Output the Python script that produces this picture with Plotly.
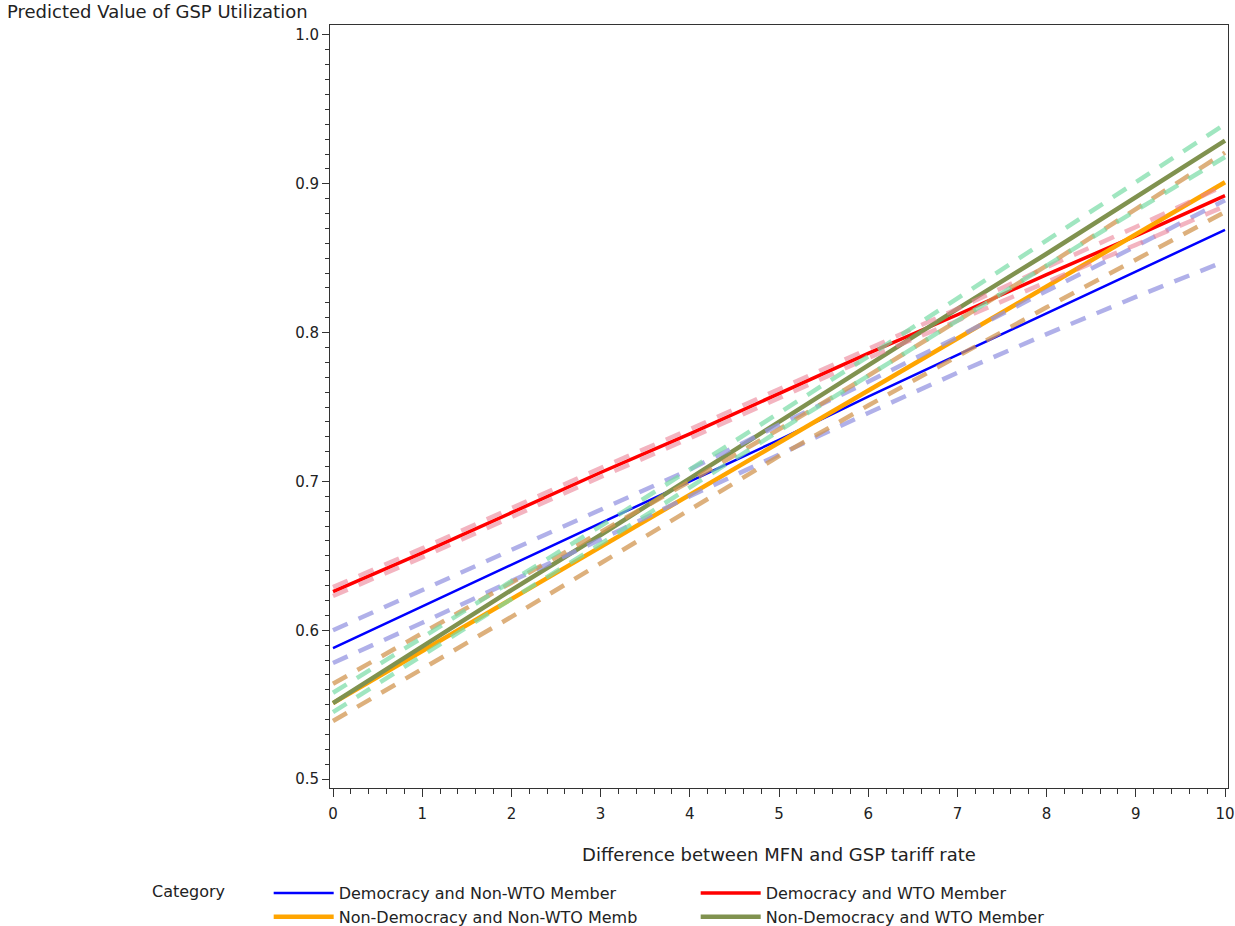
import plotly.graph_objects as go

x_vals = [0, 1, 2, 3, 4, 5, 6, 7, 8, 9, 10]

series_names = [
    "Democracy and Non-WTO Member",
    "Democracy and WTO Member",
    "Non-Democracy and Non-WTO Memb",
    "Non-Democracy and WTO Member",
]

dem_nonwto = [0.588, 0.616, 0.644, 0.672, 0.700, 0.728, 0.757, 0.785, 0.813, 0.841, 0.869]
dem_nonwto_hi = [0.600, 0.627, 0.654, 0.681, 0.708, 0.738, 0.767, 0.797, 0.828, 0.858, 0.889]
dem_nonwto_lo = [0.578, 0.605, 0.633, 0.661, 0.690, 0.718, 0.746, 0.773, 0.799, 0.824, 0.848]

dem_wto = [0.626, 0.652, 0.679, 0.706, 0.732, 0.759, 0.786, 0.812, 0.839, 0.865, 0.892]
dem_wto_hi = [0.629, 0.655, 0.682, 0.709, 0.735, 0.762, 0.789, 0.816, 0.844, 0.871, 0.899]
dem_wto_lo = [0.623, 0.649, 0.676, 0.703, 0.729, 0.756, 0.783, 0.808, 0.834, 0.859, 0.885]

nondem_nonwto = [0.551, 0.586, 0.621, 0.656, 0.691, 0.726, 0.761, 0.796, 0.831, 0.866, 0.901]
nondem_nonwto_hi = [0.564, 0.598, 0.632, 0.666, 0.700, 0.735, 0.771, 0.808, 0.845, 0.883, 0.921]
nondem_nonwto_lo = [0.539, 0.574, 0.609, 0.645, 0.681, 0.717, 0.751, 0.784, 0.817, 0.849, 0.881]

nondem_wto = [0.551, 0.589, 0.627, 0.664, 0.702, 0.740, 0.778, 0.816, 0.853, 0.891, 0.929]
nondem_wto_hi = [0.558, 0.595, 0.633, 0.670, 0.708, 0.746, 0.784, 0.823, 0.862, 0.901, 0.940]
nondem_wto_lo = [0.545, 0.583, 0.621, 0.658, 0.696, 0.734, 0.771, 0.808, 0.845, 0.882, 0.918]

x_ticks = [0, 1, 2, 3, 4, 5, 6, 7, 8, 9, 10]
y_ticks = [0.5, 0.6, 0.7, 0.8, 0.9, 1.0]
y_tick_text = ["0.5", "0.6", "0.7", "0.8", "0.9", "1.0"]

means = [dem_nonwto, dem_wto, nondem_nonwto, nondem_wto]
his = [dem_nonwto_hi, dem_wto_hi, nondem_nonwto_hi, nondem_wto_hi]
los = [dem_nonwto_lo, dem_wto_lo, nondem_nonwto_lo, nondem_wto_lo]

line_colors = ["#0000FF", "#FF0000", "#FFA500", "#80924F"]
line_widths = [2.5, 3.5, 4.5, 4.5]
ci_colors = [
    "rgba(150,150,225,0.75)",
    "rgba(235,130,150,0.6)",
    "rgba(210,150,80,0.75)",
    "rgba(120,220,165,0.7)",
]

FONT = "DejaVu Sans, sans-serif"
TXT = "#222"

fig = go.Figure()

for i in range(4):
    fig.add_trace(go.Scatter(
        x=x_vals, y=means[i], mode="lines", name=series_names[i],
        line=dict(color=line_colors[i], width=line_widths[i]),
        legendrank=i + 1,
    ))

for i in range(4):
    for band in (his[i], los[i]):
        fig.add_trace(go.Scatter(
            x=x_vals, y=band, mode="lines", showlegend=False,
            line=dict(color=ci_colors[i], width=4.5, dash="16px,12px"),
            hoverinfo="skip",
        ))

fig.update_layout(
    width=1235, height=926,
    margin=dict(l=330, r=7, t=25, b=138, autoexpand=False),
    plot_bgcolor="white", paper_bgcolor="white",
    font=dict(family=FONT, size=15, color=TXT),
    showlegend=True,
    legend=dict(
        orientation="h",
        xref="container", yref="container",
        x=150 / 1235, xanchor="left",
        y=1 - 876 / 926, yanchor="top",
        entrywidth=352, entrywidthmode="pixels",
        itemwidth=60,
        tracegroupgap=0,
        font=dict(family=FONT, size=16, color=TXT),
        title=dict(text="Category       ", side="left", font=dict(family=FONT, size=16, color=TXT)),
        bgcolor="rgba(0,0,0,0)",
    ),
    annotations=[dict(
        text="Predicted Value of GSP Utilization",
        xref="paper", yref="paper",
        x=-0.362, y=1.0 + 13 / 763, xanchor="left", yanchor="middle",
        showarrow=False, font=dict(family=FONT, size=18, color=TXT),
    )],
)

fig.update_xaxes(
    range=[-0.0336, 10.0336],
    automargin=False,
    tickvals=x_ticks, ticktext=[str(t) for t in x_ticks],
    ticks="outside", ticklen=8, tickcolor="#333", tickwidth=1,
    ticklabelstandoff=4,
    minor=dict(dtick=0.2, ticks="outside", ticklen=5, tickcolor="#333", showgrid=False),
    showline=True, linecolor="#333", linewidth=1, mirror=True,
    showgrid=False, zeroline=False,
    tickfont=dict(family=FONT, size=15, color=TXT),
    title=dict(text="Difference between MFN and GSP tariff rate",
               font=dict(family=FONT, size=18, color=TXT), standoff=26),
)

fig.update_yaxes(
    range=[0.494, 1.0067],
    automargin=False,
    tickvals=y_ticks, ticktext=y_tick_text,
    ticks="outside", ticklen=7, tickcolor="#333", tickwidth=1,
    minor=dict(dtick=0.01, tick0=0.5, ticks="outside", ticklen=4, tickcolor="#333", showgrid=False),
    showline=True, linecolor="#333", linewidth=1, mirror=True,
    showgrid=False, zeroline=False,
    tickfont=dict(family=FONT, size=15, color=TXT),
)

fig.write_html("out.html")
